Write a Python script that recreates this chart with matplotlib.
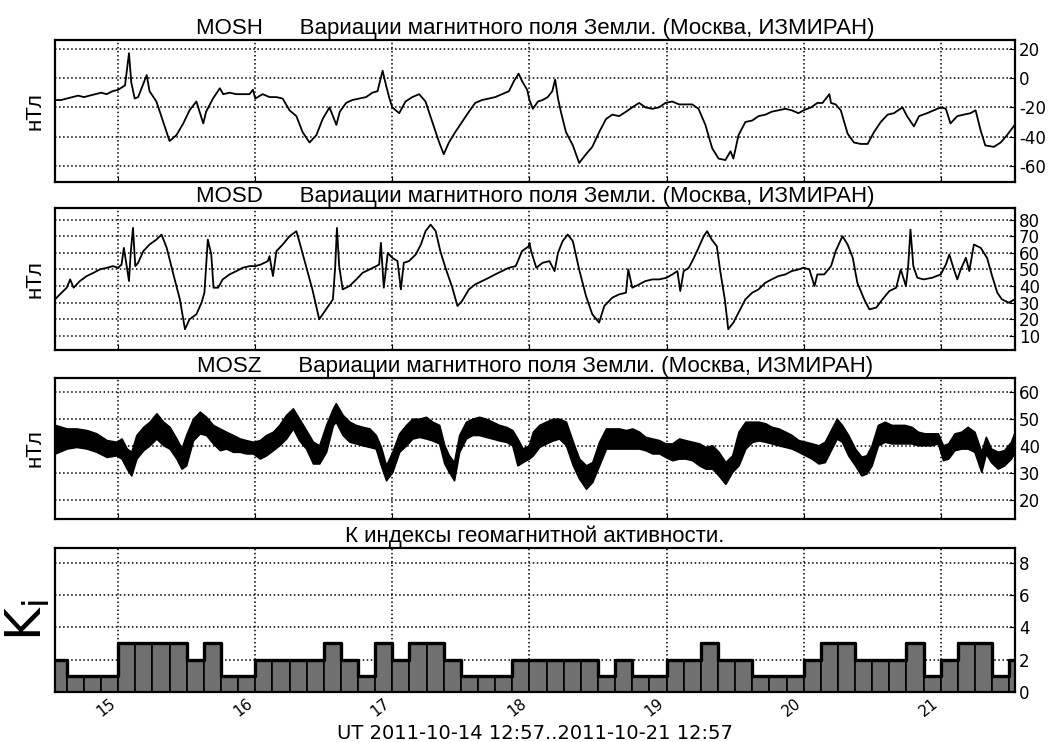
import numpy as np
import pandas as pd
import matplotlib
matplotlib.use('Agg')
import matplotlib.pyplot as plt
import matplotlib.dates as mdates

plt.rcParams['axes.unicode_minus'] = False

# hours since 2011-10-14 00:00 UT
h_hours = [12.95, 14, 15, 16, 17, 18, 19, 20, 21, 22, 23,
           24.0, 25.2, 25.9, 26.3, 26.9, 27.5, 29.0, 29.5, 30.7, 31.9, 33.0, 34.2, 35.4, 36.5, 37.7,
           38.9, 39.4, 40.6, 41.8, 42.4, 43.5, 44.7, 45.8, 47.0, 47.6,
           48.0, 49.3, 50.5, 51.7, 52.8, 54.0, 55.2, 56.3, 57.5, 58.7, 59.8, 61.0, 62.2, 62.8, 63.9,
           65.0, 66.2, 67.4, 68.5, 69.4, 70.3, 70.9, 71.5,
           72.0, 73.2, 74.3, 75.5, 76.7, 77.8, 79.0, 80.2, 81.0, 81.9, 83.0, 84.2, 85.4, 86.5, 87.7,
           88.9, 90.0, 91.2, 92.4, 93.3, 94.1, 94.7, 95.6,
           96.0, 96.6, 97.5, 98.3, 99.2, 100.0, 100.5, 101.0, 101.5, 102.4, 103.6, 104.7, 105.9, 107.0,
           108.2, 109.4, 110.5, 111.7, 112.9, 114.0, 115.2, 116.3, 117.5, 118.7, 119.8,
           121.0, 122.2, 123.3, 124.5, 125.6, 126.8, 128.0, 129.1, 130.3, 131.2, 131.7, 132.6, 133.8,
           135.0, 136.1, 137.3, 138.4, 139.6, 140.8, 141.9, 143.1,
           144.0, 145.3, 146.4, 147.3, 148.5, 148.8, 149.6, 150.5, 151.7, 152.8, 154.0, 155.2, 156.3,
           157.5, 158.7, 159.8, 161.3, 162.1, 163.3, 164.2, 165.6, 166.8, 168.0,
           168.9, 169.7, 170.9, 172.0, 173.2, 174.1, 175.0, 175.8, 177.3, 178.5, 179.6, 180.95]
h_vals = [-15, -15, -14, -13, -12, -13, -12, -11, -10, -11, -9,
          -8, -5, 17, -3, -14, -13, 2, -9, -16, -30, -43, -39, -31, -22, -16,
          -31, -23, -14, -7, -11, -10, -11, -11, -11, -8,
          -14, -11, -13, -13, -14, -22, -26, -37, -44, -39, -28, -20, -32, -23, -17,
          -15, -14, -13, -10, -9, 5, -5, -14,
          -20, -24, -16, -13, -11, -16, -30, -44, -52, -44, -37, -30, -23, -17, -15,
          -14, -13, -11, -9, -2, 3, -2, -8,
          -15, -21, -16, -15, -13, -9, -1, -14, -23, -37, -46, -58, -52, -47,
          -37, -28, -25, -26, -23, -20, -17, -20, -21, -20, -17,
          -16, -18, -18, -18, -21, -32, -48, -55, -56, -50, -55, -39, -30,
          -29, -26, -25, -23, -22, -21, -22, -24,
          -22, -20, -17, -17, -11, -17, -18, -22, -38, -44, -45, -45, -37,
          -30, -25, -24, -20, -26, -33, -26, -24, -22, -20,
          -21, -31, -26, -25, -24, -22, -36, -46, -47, -44, -39, -32]

d_hours = [12.95, 13.8, 15.0, 15.6, 16.2, 17.3, 18.5, 19.7, 20.8, 22.0, 23.1, 24.0,
           24.6, 25.0, 25.5, 25.9, 26.2, 26.6, 27.0, 27.5, 28.4, 29.5, 30.7, 31.6, 32.5, 33.6, 34.8,
           35.7, 36.5, 37.7, 38.6, 39.1, 39.4, 39.7, 40.3, 40.7, 41.5, 42.3, 43.5, 44.7, 45.8, 47.0, 48.0,
           49.0, 50.2, 50.5, 51.1, 51.7, 52.8, 54.0, 55.2, 55.7, 56.9, 58.0, 59.2, 60.4, 61.6, 62.0,
           62.3, 62.7, 63.3, 64.5, 65.7, 66.8, 68.0, 69.2, 69.7, 70.0, 70.5, 71.2, 72.0,
           72.9, 73.5, 74.0, 74.9, 76.1, 77.0, 77.8, 78.7, 79.6, 80.4, 81.3, 82.5, 83.4, 84.2, 85.4,
           86.5, 87.7, 88.9, 90.0, 91.2, 92.4, 93.6, 94.7, 95.9,
           96.0, 96.3, 97.2, 98.3, 99.5, 100.4, 101.0, 101.8, 102.7, 103.6, 104.7, 105.9, 107.0,
           108.2, 109.1, 110.5, 111.7, 112.9, 113.3, 114.0, 115.2, 116.3, 117.5, 118.7, 120.0,
           121.0, 121.9, 122.4, 123.0, 123.9, 124.8, 125.6, 126.5, 127.1, 127.9, 128.8, 129.4, 130.2,
           130.8, 131.7, 132.6, 133.8, 135.0, 136.1, 137.3, 138.4, 139.6, 140.8, 141.9, 143.1, 144.0,
           145.0, 145.9, 146.4, 147.6, 148.8, 149.6, 150.8, 151.7, 152.6, 153.4, 154.6, 155.5, 156.7,
           157.8, 159.0, 160.2, 161.0, 161.9, 162.3, 162.7, 163.2, 163.9, 165.0, 166.5, 168.0,
           168.9, 169.5, 170.3, 170.9, 171.5, 172.4, 173.0, 173.8, 175.0, 176.1, 177.0, 177.9, 178.7,
           179.9, 180.95]
d_vals = [32, 35, 39, 44, 39, 43, 46, 48, 50, 51, 52, 51,
          53, 63, 52, 43, 60, 75, 52, 54, 61, 65, 68, 71, 63, 48, 32,
          14, 20, 23, 30, 36, 52, 68, 59, 39, 39, 44, 47, 49, 51, 52, 52,
          53, 55, 58, 46, 61, 65, 70, 73, 67, 52, 38, 20, 26, 32, 52,
          75, 52, 38, 40, 44, 48, 50, 52, 53, 66, 39, 60, 57,
          55, 38, 54, 55, 59, 65, 73, 77, 73, 61, 51, 39, 28, 31, 38,
          41, 43, 45, 47, 49, 51, 52, 61, 64,
          66, 61, 51, 54, 55, 49, 60, 67, 71, 67, 50, 34, 23,
          18, 28, 33, 35, 36, 50, 39, 41, 43, 44, 44, 45,
          47, 49, 37, 49, 51, 57, 63, 70, 73, 68, 64, 49, 32,
          14, 18, 24, 32, 36, 38, 42, 44, 46, 47, 49, 50, 51,
          50, 40, 47, 47, 52, 61, 70, 65, 57, 42, 32, 26, 27,
          32, 37, 39, 50, 40, 52, 74, 52, 45, 44, 45, 47,
          53, 59, 50, 44, 50, 57, 49, 65, 63, 57, 46, 36, 32,
          30, 32]

z_hours = [12.95, 15.0, 16.7, 18.5, 20.2, 22.0, 23.7,
           24.6, 25.5, 26.3, 27.2, 28.4, 29.5, 30.7, 31.9, 33.0, 34.2, 35.1, 35.9, 37.1, 38.3, 39.4,
           40.6, 41.8, 42.9, 44.1, 45.3, 46.4, 47.6,
           48.8, 49.9, 51.1, 52.2, 53.4, 54.6, 55.7, 56.9, 58.1, 59.2, 60.4, 61.6, 62.1, 63.3, 64.5,
           65.6, 66.8, 68.0, 69.1, 70.0, 70.9,
           72.0, 73.2, 74.4, 75.5, 76.7, 77.9, 79.0, 80.2, 81.1, 81.9, 82.8, 83.7, 84.9, 86.0, 87.2,
           88.4, 89.5, 90.7, 91.9, 93.0, 93.9, 94.8, 95.9,
           96.6, 97.7, 98.9, 100.1, 101.2, 102.4, 103.6, 104.7, 105.9, 107.0, 108.2, 109.4, 110.5,
           111.7, 112.9, 114.0, 115.2, 116.3, 117.5, 118.7, 119.8,
           121.0, 122.2, 123.3, 124.5, 125.7, 126.8, 128.0, 129.1, 130.3, 131.5, 132.6, 133.8, 135.0,
           136.1, 137.3, 138.4, 139.6, 140.8, 141.9, 143.1,
           144.3, 145.4, 146.6, 147.7, 148.9, 149.8, 150.7, 151.8, 153.0, 154.1, 155.0, 155.9, 157.0,
           158.2, 159.4, 160.5, 161.7, 162.9, 164.0, 165.2, 166.3, 167.5,
           168.4, 169.3, 170.4, 171.6, 172.7, 173.9, 175.1, 175.9, 176.8, 178.0, 179.1, 180.3, 180.95]
z_hi = [47.7, 46.4, 46.4, 45.8, 44.6, 42.1, 41.5,
        42.7, 39.0, 37.8, 44.0, 47.0, 48.9, 52.0, 48.9, 47.0, 42.7, 39.0, 44.0, 50.0, 52.6, 50.7,
        47.7, 46.4, 45.2, 44.0, 42.7, 42.1, 41.5,
        42.1, 44.0, 45.2, 47.7, 51.4, 53.8, 50.0, 45.8, 41.5, 40.2, 47.7, 53.8, 55.7, 51.4, 48.9,
        47.7, 47.0, 46.4, 44.0, 39.6, 32.8,
        37.8, 44.6, 47.7, 50.0, 50.0, 50.7, 48.9, 47.7, 40.2, 36.5, 34.0, 44.0, 48.9, 50.0, 50.7,
        50.0, 48.9, 47.7, 47.0, 45.8, 42.7, 39.0, 40.2,
        45.2, 47.7, 48.9, 50.0, 50.0, 48.9, 41.5, 35.3, 32.8, 34.0, 41.5, 46.4, 46.4,
        46.4, 45.8, 46.4, 45.2, 43.3, 42.7, 42.1, 40.9,
        40.9, 42.7, 42.1, 41.5, 40.9, 39.6, 40.2, 37.8, 34.0, 36.5, 45.2, 48.9, 48.9,
        48.9, 48.3, 47.0, 46.4, 45.2, 44.0, 42.1,
        41.5, 40.9, 40.2, 41.5, 46.4, 50.0, 47.7, 44.0, 39.0, 36.0, 36.5, 40.2, 47.7,
        48.9, 47.7, 47.7, 47.7, 47.0, 45.2, 44.6, 44.6, 44.6,
        40.2, 40.9, 44.6, 45.2, 47.0, 45.2, 37.8, 43.3, 39.0, 37.8, 38.4, 41.5, 45.2]
z_lo = [37.2, 39.0, 39.6, 39.0, 37.8, 35.9, 36.5,
        35.3, 31.6, 29.1, 35.3, 38.4, 40.2, 42.7, 40.2, 39.0, 35.3, 31.6, 32.8, 42.0, 44.6, 44.0,
        40.9, 38.4, 39.0, 37.8, 37.8, 37.2, 37.2,
        35.3, 36.5, 38.4, 40.2, 42.7, 46.4, 42.0, 39.0, 33.5, 33.5, 37.8, 47.7, 48.9, 44.0, 41.5,
        40.9, 40.2, 39.6, 39.0, 32.8, 27.3,
        30.4, 37.8, 40.2, 42.7, 43.3, 42.7, 42.0, 40.9, 33.5, 30.4, 27.3, 37.8, 42.7, 44.0, 44.0,
        43.3, 42.7, 42.0, 41.5, 40.2, 32.8, 34.0, 35.3,
        36.5, 39.6, 40.9, 42.0, 42.7, 40.2, 32.8, 27.9, 24.2, 26.7, 32.8, 39.0, 39.0,
        39.0, 39.0, 39.0, 39.0, 38.4, 37.2, 37.2, 35.9,
        34.7, 35.3, 35.3, 34.7, 32.8, 31.6, 31.6, 29.1, 26.0, 30.4, 32.8, 39.0, 41.5,
        42.0, 41.5, 40.9, 40.2, 39.6, 39.0, 37.8,
        36.5, 35.3, 33.5, 34.0, 39.0, 42.7, 41.5, 36.5, 32.8, 29.1, 29.8, 32.8, 40.2,
        41.5, 40.9, 40.9, 40.9, 40.9, 40.2, 40.2, 40.2, 40.9,
        34.7, 35.3, 38.4, 39.0, 39.0, 37.8, 30.4, 37.2, 34.0, 31.6, 32.8, 35.3, 37.8]

# K index, 3-hour intervals starting 2011-10-14 12:00 UT
ki_vals = [2, 1, 1, 1,
           3, 3, 3, 3, 2, 3, 1, 1,
           2, 2, 2, 2, 3, 2, 1, 3,
           2, 3, 3, 2, 1, 1, 1, 2,
           2, 2, 2, 2, 1, 2, 1, 1,
           2, 2, 3, 2, 2, 1, 1, 1,
           2, 3, 3, 2, 2, 2, 3, 1,
           2, 3, 3, 1, 2]
ki_start_hour = 12

t0 = pd.Timestamp('2011-10-14 00:00')
t_start = pd.Timestamp('2011-10-14 12:57')
t_end = pd.Timestamp('2011-10-21 12:57')


def to_time(hours):
    return t0 + pd.to_timedelta(np.array(hours), unit='h')


title_font = dict(family='Liberation Sans', fontsize=16)
subtitle = 'Вариации магнитного поля Земли. (Москва, ИЗМИРАН)'

fig = plt.figure(figsize=(10.5, 7.42), dpi=100)
left, width = 0.0524, 0.914
rects = [(left, 0.7547, width, 0.1914),
         (left, 0.5283, width, 0.1914),
         (left, 0.3005, width, 0.1900),
         (left, 0.0675, width, 0.1940)]
axes = [fig.add_axes(r) for r in rects]


def style_axis(ax):
    ax.set_xlim(t_start, t_end)
    ax.xaxis.set_major_locator(mdates.DayLocator())
    ax.xaxis.set_major_formatter(mdates.DateFormatter('%d'))
    ax.yaxis.tick_right()
    ax.grid(True, ls=':', color='k', lw=1.1)
    ax.tick_params(axis='both', direction='in', length=4, labelsize=12, pad=3)
    for s in ax.spines.values():
        s.set_linewidth(1.6)


# MOSH
ax = axes[0]
ax.plot(to_time(h_hours), h_vals, color='k', lw=1.3)
ax.set_ylim(-71, 26)
ax.set_yticks([-60, -40, -20, 0, 20])
style_axis(ax)
ax.tick_params(axis='x', labelbottom=False)
ax.set_title('MOSH      ' + subtitle, pad=4, **title_font)
ax.set_ylabel('нТл', labelpad=7, **title_font)

# MOSD
ax = axes[1]
ax.plot(to_time(d_hours), d_vals, color='k', lw=1.3)
ax.set_ylim(1.5, 87)
ax.set_yticks(range(10, 90, 10))
style_axis(ax)
ax.tick_params(axis='x', labelbottom=False)
ax.set_title('MOSD      ' + subtitle, pad=4, **title_font)
ax.set_ylabel('нТл', labelpad=7, **title_font)

# MOSZ
ax = axes[2]
zt = to_time(z_hours)
ax.fill_between(zt, z_lo, z_hi, color='k', lw=1.2, edgecolor='k')
ax.set_ylim(13, 65)
ax.set_yticks([20, 30, 40, 50, 60])
style_axis(ax)
ax.tick_params(axis='x', labelbottom=False)
ax.set_title('MOSZ      ' + subtitle, pad=4, **title_font)
ax.set_ylabel('нТл', labelpad=7, **title_font)

# K index
ax = axes[3]
ki_hours = [ki_start_hour + 3 * i for i in range(len(ki_vals))]
ki_t = to_time(ki_hours)
ax.bar(ki_t, ki_vals, width=3 / 24, align='edge', color='#707070', edgecolor='k', lw=1.2, zorder=2)
edges = to_time(ki_hours + [ki_hours[-1] + 3])
ax.step(edges, ki_vals + [ki_vals[-1]], where='post', color='k', lw=2.4, zorder=3)
ax.set_ylim(0, 8.9)
ax.set_yticks([0, 2, 4, 6, 8])
style_axis(ax)
ax.set_axisbelow(True)
ax.set_title('К индексы геомагнитной активности.', pad=4, **title_font)
ax.set_ylabel(r'$\mathregular{K_i}$', fontsize=36, labelpad=2)
for lbl in ax.get_xticklabels():
    lbl.set_rotation(38)
    lbl.set_ha('right')
    lbl.set_fontsize(11)
ax.set_xlabel('UT 2011-10-14 12:57..2011-10-21 12:57', fontsize=14, labelpad=3)

fig.savefig('out.png', dpi=100)
